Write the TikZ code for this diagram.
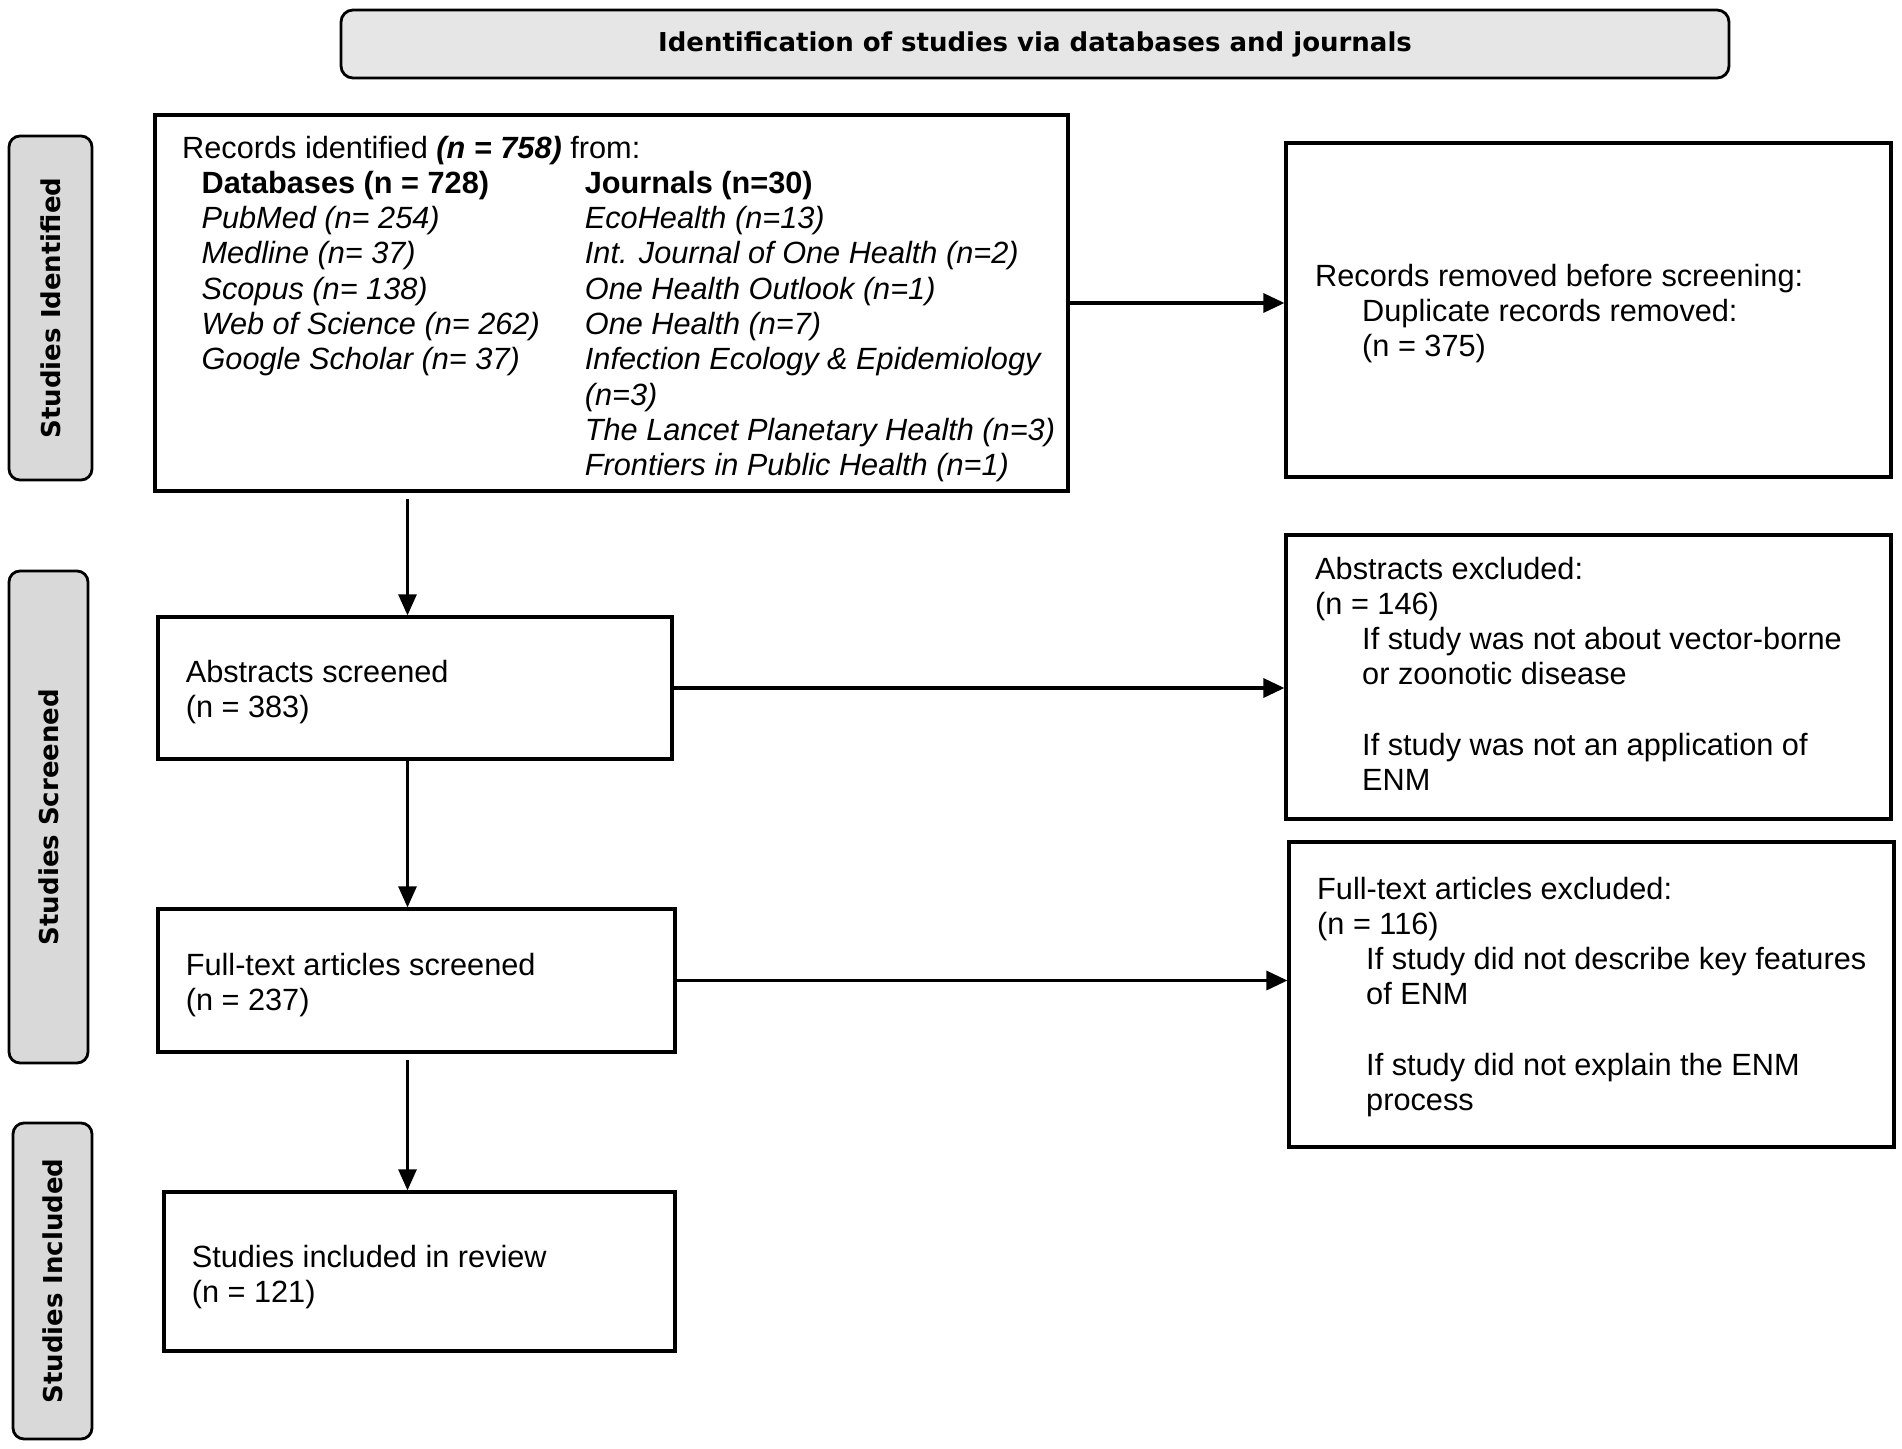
\documentclass[tikz,border=0pt]{standalone}
\usepackage{fontspec}
\setmainfont{Liberation Sans}
\newfontfamily\lblfont{DejaVu Sans}
\usetikzlibrary{arrows.meta}
\definecolor{titlegray}{HTML}{E6E6E6}
\definecolor{sidegray}{HTML}{D9D9D9}
\newcommand{\bodyfont}{\fontsize{30.7}{35.3}\selectfont}
\newcommand{\ind}{\hspace*{47pt}}
\begin{document}
\begin{tikzpicture}[x=1pt,y=-1pt,
  box/.style={draw=black, line width=3.2pt, inner sep=0pt, fill=white},
  phase/.style={draw=black, line width=2.8pt, rounded corners=11pt, fill=sidegray, inner sep=0pt},
  titlebox/.style={draw=black, line width=2.8pt, rounded corners=12pt, fill=titlegray, inner sep=0pt},
  txt/.style={anchor=base west, inner sep=0pt, font=\bodyfont},
  lbl/.style={inner sep=0pt, font=\lblfont\bfseries\fontsize{26}{30}\selectfont},
  arr/.style={line width=3.3pt, -{Triangle[length=21pt,width=19pt]}},
  varr/.style={line width=2.8pt, -{Triangle[length=21pt,width=18pt]}},
]
\fill[white] (0,0) rectangle (1902,1448);
\useasboundingbox (0,0) rectangle (1902,1448);

% title
\node[titlebox, minimum width=1388pt, minimum height=68pt] (title) at (1035,44) {};
\node[lbl] (titletext) at (title.center) {Identification of studies via databases and journals};

% phase labels
\node[phase, minimum width=83pt, minimum height=344pt] (sideI) at (50.5,308) {};
\node[lbl, rotate=90] (sideIt) at (sideI.center) {Studies Identified};
\node[phase, minimum width=79pt, minimum height=492pt] (sideS) at (48.5,817) {};
\node[lbl, rotate=90] (sideSt) at (sideS.center) {Studies Screened};
\node[phase, minimum width=79pt, minimum height=316pt] (sideN) at (52.5,1281) {};
\node[lbl, rotate=90] (sideNt) at (sideN.center) {Studies Included};

% boxes
\node[box, minimum width=913pt, minimum height=376pt] (records) at (611.5,303) {};
\node[box, minimum width=605pt, minimum height=334pt] (removed) at (1588.5,310) {};
\node[box, minimum width=514pt, minimum height=142pt] (abs) at (415,688) {};
\node[box, minimum width=605pt, minimum height=284pt] (absx) at (1588.5,677) {};
\node[box, minimum width=517pt, minimum height=143pt] (ft) at (416.5,980.5) {};
\node[box, minimum width=605pt, minimum height=305pt] (ftx) at (1591.5,994.5) {};
\node[box, minimum width=511pt, minimum height=159pt] (incl) at (419.5,1271.5) {};

% texts
\node[txt] (rechead) at (182,158) {Records identified \textbf{\textit{(n = 758)}} from:};
\node[txt] (dbcol) at (201.4,193.3) {\begin{tabular}[t]{@{}l@{}}
\textbf{Databases (n = 728)}\\
\textit{PubMed (n= 254)}\\
\textit{Medline (n= 37)}\\
\textit{Scopus (n= 138)}\\
\textit{Web of Science (n= 262)}\\
\textit{Google Scholar (n= 37)}
\end{tabular}};
\node[txt] (jrcol) at (584.7,193.3) {\begin{tabular}[t]{@{}l@{}}
\textbf{Journals (n=30)}\\
\textit{EcoHealth (n=13)}\\
\textit{Int. Journal of One Health (n=2)}\\
\textit{One Health Outlook (n=1)}\\
\textit{One Health (n=7)}\\
\textit{Infection Ecology \& Epidemiology}\\
\textit{(n=3)}\\
\textit{The Lancet Planetary Health (n=3)}\\
\textit{Frontiers in Public Health (n=1)}
\end{tabular}};

\node[txt] (remtext) at (1315,286) {\begin{tabular}[t]{@{}l@{}}
Records removed before screening:\\
\ind Duplicate records removed:\\
\ind (n = 375)
\end{tabular}};

\node[txt] (abstext) at (185.6,682) {\begin{tabular}[t]{@{}l@{}}
Abstracts screened\\
(n = 383)
\end{tabular}};

\node[txt] (absxtext) at (1315,579) {\begin{tabular}[t]{@{}l@{}}
Abstracts excluded:\\
(n = 146)\\
\ind If study was not about vector-borne\\
\ind or zoonotic disease\\
\\
\ind If study was not an application of\\
\ind ENM
\end{tabular}};

\node[txt] (fttext) at (185.6,975.5) {\begin{tabular}[t]{@{}l@{}}
Full-text articles screened\\
(n = 237)
\end{tabular}};

\node[txt] (ftxtext) at (1317,899) {\begin{tabular}[t]{@{}l@{}}
Full-text articles excluded:\\
(n = 116)\\
\hspace*{49pt}If study did not describe key features\\
\hspace*{49pt}of ENM\\
\\
\hspace*{49pt}If study did not explain the ENM\\
\hspace*{49pt}process
\end{tabular}};

\node[txt] (incltext) at (191.6,1267) {\begin{tabular}[t]{@{}l@{}}
Studies included in review\\
(n = 121)
\end{tabular}};

% connectors
\coordinate (col) at (407.5,0);
\draw[arr] (records.east) -- (records.east -| removed.west);
\draw[varr, shorten <=6pt] (records.south -| col) -- (abs.north -| col);
\draw[arr] (abs.east) -- (abs.east -| absx.west);
\draw[varr] (abs.south -| col) -- (ft.north -| col);
\draw[arr] (ft.east) -- (ft.east -| ftx.west);
\draw[varr, shorten <=6pt] (ft.south -| col) -- (incl.north -| col);
\end{tikzpicture}
\end{document}
